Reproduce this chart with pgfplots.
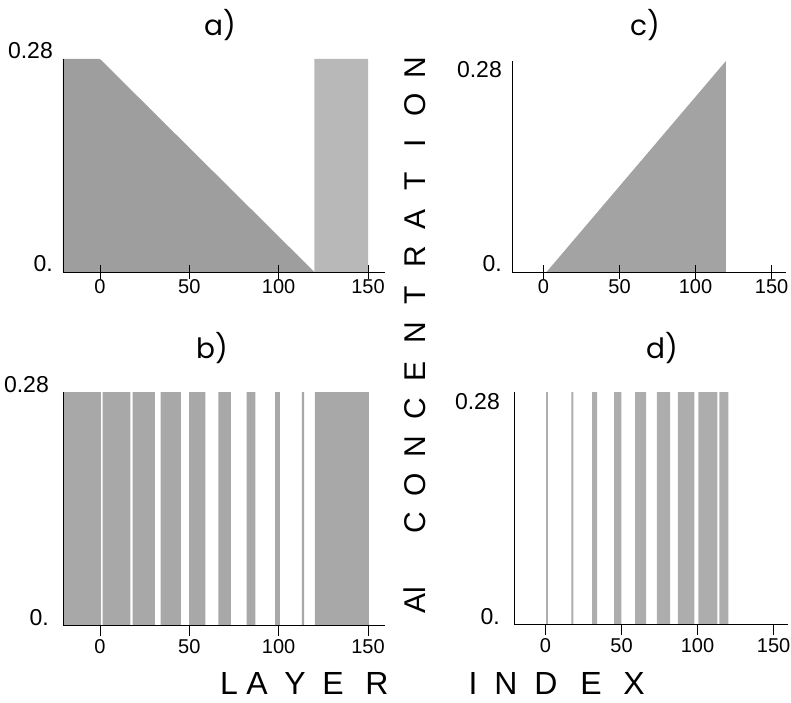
\documentclass[border=0pt]{standalone}
\usepackage{fontspec}
\setmainfont{Liberation Sans}
\newfontfamily\titlefont{Poppins}
\usepackage{pgfplots}
\pgfplotsset{compat=1.18}
\definecolor{fillA}{gray}{0.62}
\definecolor{fillA2}{gray}{0.72}
\definecolor{fillB}{gray}{0.66}
\definecolor{fillC}{gray}{0.64}
\definecolor{fillD}{gray}{0.68}
\pgfplotsset{
  panel/.style={
    scale only axis, anchor=south west,
    axis lines*=left, axis on top,
    xmin=-20.7, xmax=159.5, ymin=0, ymax=0.28,
    xtick={0,50,100,150}, ytick={0,0.28},
    major y tick style={draw=none},
    axis line style={line width=0.8pt, black},
    major x tick style={line width=0.8pt, black},
    xticklabel style={font=\fontsize{20}{22}\selectfont, anchor=north, inner sep=0pt},
    /pgf/number format/assume math mode=true,
    yticklabel style={font=\fontsize{23}{25}\selectfont, anchor=base east, inner sep=0pt, xshift=-3pt},
  },
  toprow/.style={tick align=center, major tick length=14pt},
  botrow/.style={tick align=outside, major tick length=11pt, xticklabel style={yshift=-3pt}},
}
\begin{document}
\begin{tikzpicture}
\useasboundingbox (0pt,0pt) rectangle (791pt,702pt);
% a)
\begin{axis}[panel, toprow, at={(63pt,430pt)}, width=322pt, height=213pt,
  yticklabels={{0.\hspace{12pt}},{0.28}}]
\addplot[fill=fillA, draw=none] coordinates {(-20.7,0) (-20.7,0.28) (0,0.28) (120,0)} \closedcycle;
\addplot[fill=fillA2, draw=none] coordinates {(120,0) (120,0.28) (150,0.28) (150,0)} \closedcycle;
\end{axis}
% c)
\begin{axis}[panel, toprow, at={(512pt,430pt)}, width=274pt, height=211pt,
  yticklabels={{0.\hspace{12pt}},{\raisebox{-17pt}{0.28}\hspace{6pt}}}]
\addplot[fill=fillC, draw=none] coordinates {(2,0) (120,0.28) (120,0)} \closedcycle;
\end{axis}
% b)
\begin{axis}[panel, botrow, at={(63pt,77pt)}, width=322pt, height=233pt,
  yticklabels={{0.\hspace{12pt}},{0.28}}]
\addplot[fill=fillB, draw=none] coordinates {
 (-20.7,0) (-20.7,0.28) (0.5,0.28) (0.5,0)
 (1.5,0) (1.5,0.28) (17,0.28) (17,0)
 (18.3,0) (18.3,0.28) (30.7,0.28) (30.7,0)
 (34,0) (34,0.28) (45.2,0.28) (45.2,0)
 (49.9,0) (49.9,0.28) (59,0.28) (59,0)
 (66.2,0) (66.2,0.28) (73.2,0.28) (73.2,0)
 (82,0) (82,0.28) (87,0.28) (87,0)
 (98,0) (98,0.28) (100.6,0.28) (100.6,0)
 (113,0) (113,0.28) (114.3,0.28) (114.3,0)
 (120.3,0) (120.3,0.28) (150.5,0.28) (150.5,0)} \closedcycle;
\end{axis}
% d)
\begin{axis}[panel, botrow, at={(514pt,78pt)}, width=274pt, height=232pt,
  yticklabels={{0.\hspace{14pt}},{\raisebox{-17pt}{0.28}\hspace{3pt}}}]
\addplot[fill=fillD, draw=none] coordinates {
 (0.5,0) (0.5,0.28) (1.5,0.28) (1.5,0)
 (17,0) (17,0.28) (18.3,0.28) (18.3,0)
 (30.7,0) (30.7,0.28) (34,0.28) (34,0)
 (45.2,0) (45.2,0.28) (49.9,0.28) (49.9,0)
 (59,0) (59,0.28) (66.2,0.28) (66.2,0)
 (73.2,0) (73.2,0.28) (82,0.28) (82,0)
 (87,0) (87,0.28) (98,0.28) (98,0)
 (100.6,0) (100.6,0.28) (113,0.28) (113,0)
 (114.3,0) (114.3,0.28) (120.3,0.28) (120.3,0)} \closedcycle;
\end{axis}
% titles
\node[font=\titlefont\fontsize{28}{30}\selectfont] at (220pt,677pt) {a)};
\node[font=\titlefont\fontsize{28}{30}\selectfont] at (645pt,677pt) {c)};
\node[font=\titlefont\fontsize{28}{30}\selectfont] at (212pt,354pt) {b)};
\node[font=\titlefont\fontsize{28}{30}\selectfont] at (662pt,354pt) {d)};
% bottom label
\foreach \xx/\ch in {229/L,257/A,295/Y,333/E,377/R,473/I,506/N,546/D,591/E,634/X}
  \node[font=\fontsize{32}{34}\selectfont, inner sep=0pt, anchor=base] at (\xx pt,8pt) {\ch};
% vertical label
\foreach \yy/\ch in {102/Al,179/C,217/O,255/N,293/C,331/E,369/N,407/T,445/R,483/A,521/T,559/I,597/O,634/N}
  \node[font=\fontsize{30}{32}\selectfont, inner sep=0pt, rotate=90] at (415pt,\yy pt) {\ch};
\end{tikzpicture}
\end{document}
